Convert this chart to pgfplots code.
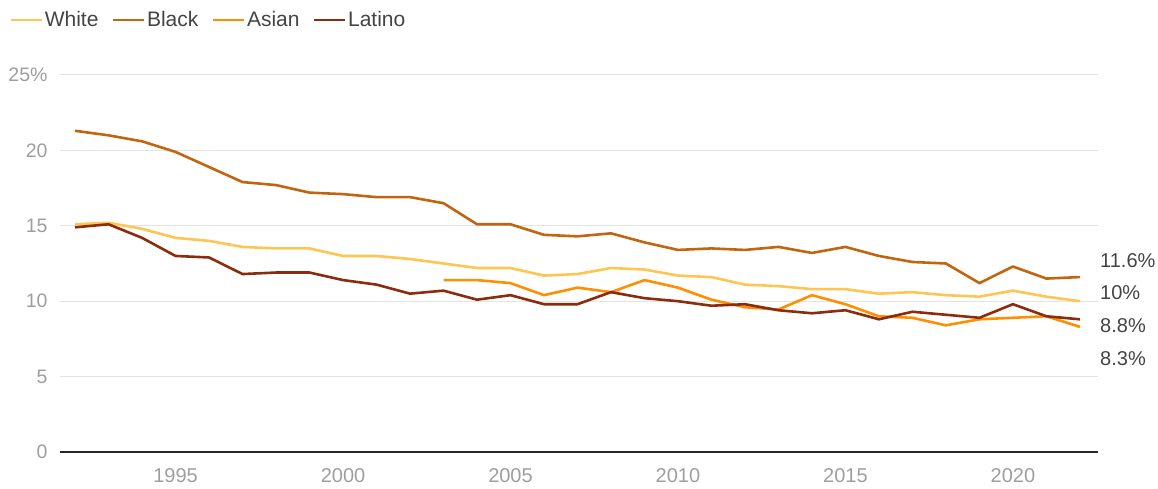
\documentclass[border=0pt]{standalone}
\usepackage{fontspec}
\setmainfont{Liberation Sans}
\usepackage{pgfplots}
\usepackage{pgfplotstable}
\pgfplotsset{compat=1.18}
\definecolor{cwhite}{HTML}{FFC552}
\definecolor{cblack}{HTML}{C2650F}
\definecolor{casian}{HTML}{FF8F00}
\definecolor{clatino}{HTML}{8A2C0D}
\definecolor{tickgray}{HTML}{9E9E9E}
\definecolor{textgray}{HTML}{444444}
\definecolor{gridgray}{HTML}{E3E3E3}
\pgfplotstableread{
year white black latino
1992 15.1 21.3 14.9
1993 15.2 21.0 15.1
1994 14.8 20.6 14.2
1995 14.2 19.9 13.0
1996 14.0 18.9 12.9
1997 13.6 17.9 11.8
1998 13.5 17.7 11.9
1999 13.5 17.2 11.9
2000 13.0 17.1 11.4
2001 13.0 16.9 11.1
2002 12.8 16.9 10.5
2003 12.5 16.5 10.7
2004 12.2 15.1 10.1
2005 12.2 15.1 10.4
2006 11.7 14.4 9.8
2007 11.8 14.3 9.8
2008 12.2 14.5 10.6
2009 12.1 13.9 10.2
2010 11.7 13.4 10.0
2011 11.6 13.5 9.7
2012 11.1 13.4 9.8
2013 11.0 13.6 9.4
2014 10.8 13.2 9.2
2015 10.8 13.6 9.4
2016 10.5 13.0 8.8
2017 10.6 12.6 9.3
2018 10.4 12.5 9.1
2019 10.3 11.2 8.9
2020 10.7 12.3 9.8
2021 10.3 11.5 9.0
2022 10.0 11.6 8.8
}\maindata
\pgfplotstableread{
year asian
2003 11.4
2004 11.4
2005 11.2
2006 10.4
2007 10.9
2008 10.6
2009 11.4
2010 10.9
2011 10.1
2012 9.6
2013 9.45
2014 10.4
2015 9.8
2016 9.0
2017 8.9
2018 8.4
2019 8.8
2020 8.9
2021 9.0
2022 8.3
}\asiandata
\begin{document}
\begin{tikzpicture}
\useasboundingbox (0,0) rectangle (1158bp,489bp);
\begin{axis}[
  at={(60bp,37bp)}, anchor=south west,
  scale only axis, width=1038bp, height=377bp,
  xmin=1991.55, xmax=2022.54, ymin=0, ymax=25,
  axis line style={draw=none},
  major tick length=0pt,
  xtick={1995,2000,2005,2010,2015,2020},
  ytick={0,5,10,15,20,25},
  yticklabels={0,5,10,15,20,25\%},
  /pgf/number format/assume math mode=true,
  xticklabel style={/pgf/number format/1000 sep=, font=\fontsize{20bp}{22bp}\selectfont, text=tickgray, anchor=center, yshift=-24bp},
  yticklabel style={font=\fontsize{19.5bp}{22bp}\selectfont, text=tickgray, xshift=-9bp},
  ymajorgrids, grid style={gridgray, line width=1bp},
  extra y ticks={0}, extra y tick labels={},
  extra y tick style={grid style={black!85, line width=2bp}},
  clip=false,
  legend columns=4,
  legend style={draw=none, fill=none, at={(-0.052,1.146)}, anchor=west,
    font=\fontsize{21bp}{22bp}\selectfont, text=textgray,
    /tikz/every even column/.append style={column sep=11bp},
    /tikz/every odd column/.append style={column sep=0bp}},
  legend image code/.code={\draw[#1, line width=2.6bp] (0bp,0bp) -- (26bp,0bp); \path (0bp,0bp) -- (31bp,0bp);},
  every axis plot/.append style={line width=2.6bp, line join=round},
]
\addplot[cwhite] table[x=year, y=white] {\maindata};
\addlegendentry{White}
\addplot[cblack] table[x=year, y=black] {\maindata};
\addlegendentry{Black}
\addplot[casian] table[x=year, y=asian] {\asiandata};
\addlegendentry{Asian}
\addplot[clatino] table[x=year, y=latino] {\maindata};
\addlegendentry{Latino}
\node[anchor=west, text=textgray, font=\fontsize{20bp}{22bp}\selectfont, inner sep=2bp] at (axis cs:2022.54,12.67) {11.6\%};
\node[anchor=west, text=textgray, font=\fontsize{20bp}{22bp}\selectfont, inner sep=2bp] at (axis cs:2022.54,10.54) {10\%};
\node[anchor=west, text=textgray, font=\fontsize{20bp}{22bp}\selectfont, inner sep=2bp] at (axis cs:2022.54,8.36) {8.8\%};
\node[anchor=west, text=textgray, font=\fontsize{20bp}{22bp}\selectfont, inner sep=2bp] at (axis cs:2022.54,6.17) {8.3\%};
\end{axis}
\end{tikzpicture}
\end{document}
